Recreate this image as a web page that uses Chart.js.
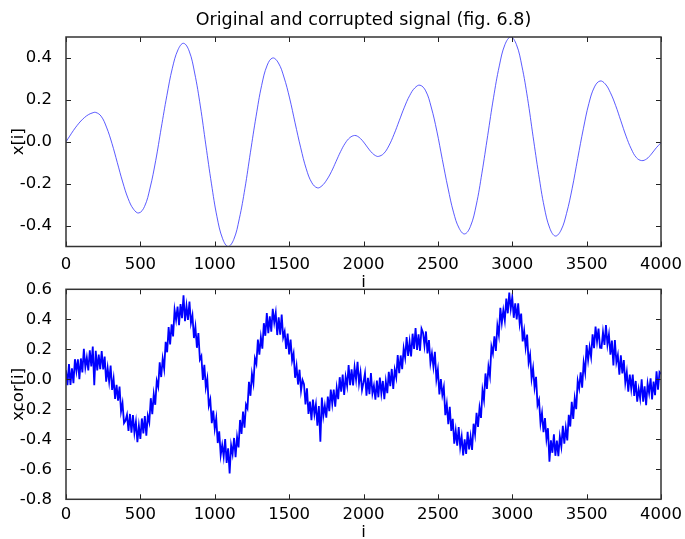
<!DOCTYPE html>
<html>
<head>
<meta charset="utf-8">
<script src="https://cdn.jsdelivr.net/npm/chart.js@4.4.1/dist/chart.umd.min.js"></script>
<style>
  html, body { margin: 0; padding: 0; background: #fff; }
  #wrap { position: relative; width: 685px; height: 539px; overflow: hidden; }
  canvas { position: absolute; left: 0; }
  #top { top: 0; }
  #bottom { top: 270px; }
</style>
</head>
<body>
<div id="wrap">
  <canvas id="top" width="685" height="300"></canvas>
  <canvas id="bottom" width="685" height="280"></canvas>
</div>
<script>
// original signal x[i], read at its turning points and along each swing
const topI = [0, 25, 50, 75, 100, 125, 150, 175, 200,
  236, 272, 309, 345, 381, 417, 454, 490,
  528, 565, 603, 640, 678, 715, 753, 790,
  828, 865, 903, 940, 978, 1015, 1053, 1090,
  1128, 1165, 1203, 1240, 1278, 1315, 1353, 1390,
  1428, 1465, 1503, 1540, 1578, 1615, 1653, 1690,
  1721, 1752, 1784, 1815, 1846, 1877, 1909, 1940,
  1960, 1980, 2000, 2020, 2040, 2060, 2080, 2100,
  2135, 2170, 2205, 2240, 2275, 2310, 2345, 2380,
  2418, 2455, 2493, 2530, 2568, 2605, 2643, 2680,
  2719, 2758, 2796, 2835, 2874, 2913, 2951, 2990,
  3028, 3065, 3103, 3140, 3178, 3215, 3253, 3290,
  3328, 3365, 3403, 3440, 3478, 3515, 3553, 3590,
  3625, 3660, 3695, 3730, 3765, 3800, 3835, 3870,
  3903, 3935, 3968, 4000];
const topV = [0, 0.027, 0.054, 0.078, 0.099, 0.116, 0.129, 0.137, 0.14,
  0.122, 0.07, -0.008, -0.10, -0.192, -0.27, -0.322, -0.34,
  -0.309, -0.221, -0.09, 0.065, 0.22, 0.351, 0.439, 0.47,
  0.433, 0.328, 0.171, -0.015, -0.201, -0.358, -0.463, -0.50,
  -0.466, -0.368, -0.222, -0.05, 0.122, 0.268, 0.366, 0.40,
  0.376, 0.309, 0.209, 0.09, -0.029, -0.129, -0.196, -0.22,
  -0.21, -0.183, -0.143, -0.095, -0.047, -0.007, 0.02, 0.03,
  0.026, 0.015, -0.001, -0.02, -0.039, -0.055, -0.066, -0.07,
  -0.057, -0.02, 0.035, 0.10, 0.165, 0.22, 0.257, 0.27,
  0.243, 0.166, 0.051, -0.085, -0.221, -0.336, -0.413, -0.44,
  -0.404, -0.302, -0.15, 0.03, 0.21, 0.362, 0.464, 0.50,
  0.464, 0.361, 0.207, 0.025, -0.157, -0.311, -0.414, -0.45,
  -0.422, -0.342, -0.222, -0.08, 0.062, 0.182, 0.262, 0.29,
  0.276, 0.234, 0.173, 0.10, 0.027, -0.034, -0.076, -0.09,
  -0.082, -0.059, -0.029, -0.005];

// corrupted signal xcor[i], one reading every 10 samples
const corrStep = 10;
const corrV = [
  0.06, -0.039, 0.102, -0.037, 0.073, -0.026, 0.134, 0.054, 0.133, 0.001,
  0.139, 0.046, 0.203, 0.079, 0.145, 0.059, 0.193, 0.086, 0.218, -0.04,
  0.19, 0.059, 0.164, 0.067, 0.188, 0.066, 0.151, -0.016, 0.075, -0.015,
  0.092, -0.071, 0.004, -0.131, -0.037, -0.143, -0.049, -0.214, -0.159, -0.292,
  -0.275, -0.236, -0.344, -0.231, -0.356, -0.238, -0.357, -0.284, -0.419, -0.31,
  -0.398, -0.261, -0.36, -0.245, -0.376, -0.243, -0.286, -0.126, -0.233, -0.098,
  -0.17, -0.01, -0.05, 0.113, 0.015, 0.137, 0.07, 0.25, 0.18, 0.348,
  0.233, 0.366, 0.286, 0.463, 0.396, 0.485, 0.36, 0.501, 0.408, 0.56,
  0.387, 0.489, 0.396, 0.518, 0.375, 0.427, 0.275, 0.35, 0.21, 0.308,
  0.132, 0.155, -0.004, 0.096, -0.055, 0.004, -0.176, -0.135, -0.292, -0.208,
  -0.33, -0.26, -0.425, -0.347, -0.505, -0.438, -0.516, -0.399, -0.557, -0.46,
  -0.628, -0.44, -0.498, -0.391, -0.52, -0.384, -0.454, -0.271, -0.364, -0.215,
  -0.323, -0.169, -0.194, -0.017, -0.11, 0.037, -0.026, 0.139, 0.103, 0.265,
  0.165, 0.281, 0.204, 0.374, 0.29, 0.441, 0.308, 0.42, 0.318, 0.47,
  0.378, 0.443, 0.295, 0.413, 0.298, 0.431, 0.28, 0.318, 0.202, 0.305,
  0.166, 0.265, 0.125, 0.172, 0.01, 0.088, -0.035, 0.064, -0.076, -0.005,
  -0.032, -0.168, -0.06, -0.231, -0.148, -0.273, -0.135, -0.233, -0.168, -0.31,
  -0.179, -0.416, -0.121, -0.245, -0.176, -0.256, -0.115, -0.212, -0.068, -0.164,
  -0.068, -0.183, -0.057, -0.132, 0.014, -0.082, 0.032, -0.105, 0.016, -0.044,
  0.095, -0.039, 0.066, -0.041, 0.08, -0.001, 0.116, -0.028, 0.045, -0.072,
  -0.021, 0.04, -0.11, 0.01, -0.099, 0.042, -0.095, -0.042, -0.136, -0.009,
  -0.12, 0.011, -0.096, -0.011, -0.133, -0.014, -0.093, 0.05, -0.046, 0.069,
  -0.064, 0.064, 0.012, 0.161, 0.04, 0.159, 0.068, 0.206, 0.144, 0.281,
  0.156, 0.25, 0.153, 0.304, 0.203, 0.341, 0.196, 0.299, 0.19, 0.338,
  0.312, 0.223, 0.319, 0.172, 0.262, 0.109, 0.173, 0.084, 0.183, -0.001,
  0.065, -0.101, 0.002, -0.105, -0.052, -0.239, -0.165, -0.299, -0.183, -0.344,
  -0.263, -0.429, -0.342, -0.442, -0.319, -0.453, -0.382, -0.508, -0.4, -0.498,
  -0.35, -0.468, -0.382, -0.471, -0.296, -0.367, -0.224, -0.318, -0.189, -0.257,
  -0.073, -0.138, 0.039, -0.064, 0.084, 0.021, 0.218, 0.173, 0.287, 0.189,
  0.358, 0.294, 0.477, 0.376, 0.461, 0.392, 0.538, 0.44, 0.578, 0.47,
  0.547, 0.41, 0.507, 0.399, 0.506, 0.369, 0.438, 0.253, 0.324, 0.213,
  0.298, 0.112, 0.164, 0.005, 0.075, -0.055, 0.016, -0.172, -0.138, -0.293,
  -0.224, -0.353, -0.258, -0.399, -0.326, -0.549, -0.407, -0.49, -0.367, -0.51,
  -0.408, -0.512, -0.382, -0.448, -0.31, -0.429, -0.325, -0.408, -0.237, -0.315,
  -0.15, -0.264, -0.127, -0.199, -0.01, -0.061, 0.047, -0.056, 0.111, 0.045,
  0.228, 0.128, 0.215, 0.149, 0.3, 0.208, 0.352, 0.252, 0.338, 0.21,
  0.209, 0.315, 0.229, 0.361, 0.231, 0.299, 0.164, 0.258, 0.092, 0.262,
  0.113, 0.162, 0.031, 0.16, 0.039, 0.128, -0.023, 0.048, -0.082, 0.032,
  -0.064, 0.031, -0.111, -0.011, -0.149, -0.065, -0.129, 0, -0.149, -0.047,
  -0.173, -0.028, -0.091, 0.007, -0.134, -0.015, -0.106, 0.053, -0.069, 0.048,
  0.035
];

const xTicks = [0, 500, 1000, 1500, 2000, 2500, 3000, 3500, 4000];
const topYTicks = [-0.4, -0.2, 0, 0.2, 0.4];
const bottomYTicks = [-0.8, -0.6, -0.4, -0.2, 0, 0.2, 0.4, 0.6];

const FONT = "'DejaVu Sans', sans-serif";
const INK = "#000";

// matplotlib-style box with inward ticks on all four sides
const frameTicks = {
  id: "frameTicks",
  afterDatasetsDraw(chart) {
    const { ctx, chartArea: a, scales } = chart;
    ctx.save();
    ctx.strokeStyle = "#222";
    ctx.lineWidth = 1;
    ctx.beginPath();
    for (const t of scales.x.ticks) {
      const px = Math.round(scales.x.getPixelForValue(t.value)) + 0.5;
      ctx.moveTo(px, a.bottom);
      ctx.lineTo(px, a.bottom - 5);
      ctx.moveTo(px, a.top);
      ctx.lineTo(px, a.top + 5);
    }
    for (const t of scales.y.ticks) {
      const py = Math.round(scales.y.getPixelForValue(t.value)) + 0.5;
      ctx.moveTo(a.left, py);
      ctx.lineTo(a.left + 5, py);
      ctx.moveTo(a.right, py);
      ctx.lineTo(a.right - 5, py);
    }
    ctx.stroke();
    ctx.strokeStyle = "#333";
    ctx.lineWidth = 1.5;
    ctx.strokeRect(a.left, a.top, a.right - a.left, a.bottom - a.top);
    ctx.restore();
  }
};

function fmt(v) {
  return Math.abs(v) < 1e-9 ? "0.0" : v.toFixed(1);
}

function makeOptions(cfg) {
  return {
    responsive: false,
    animation: false,
    events: [],
    layout: { padding: { top: cfg.padTop, right: 24, left: 0, bottom: 0 } },
    plugins: {
      legend: { display: false },
      tooltip: { enabled: false },
      title: cfg.title
        ? {
            display: true,
            fullSize: false,
            text: cfg.title,
            color: INK,
            font: { family: FONT, size: 17.5, weight: "normal" },
            padding: { top: 10, bottom: 6 }
          }
        : { display: false }
    },
    scales: {
      x: {
        type: "linear",
        min: 0,
        max: 4000,
        grid: { display: false },
        border: { display: false },
        afterBuildTicks: s => { s.ticks = xTicks.map(v => ({ value: v })); },
        afterFit: s => { s.height = cfg.xHeight; },
        ticks: {
          color: INK,
          padding: cfg.tickPad,
          maxRotation: 0,
          font: { family: FONT, size: 16.5 },
          callback: v => String(v)
        },
        title: {
          display: true,
          text: "i",
          color: INK,
          font: { family: FONT, size: 16.5 },
          padding: { top: 0, bottom: 7 }
        }
      },
      y: {
        type: "linear",
        min: cfg.yMin,
        max: cfg.yMax,
        grid: { display: false },
        border: { display: false },
        afterBuildTicks: s => { s.ticks = cfg.yTicks.map(v => ({ value: v })); },
        afterFit: s => { s.width = 66; },
        ticks: {
          color: INK,
          padding: 6,
          font: { family: FONT, size: 16.5 },
          callback: v => fmt(v)
        },
        title: {
          display: true,
          text: cfg.yLabel,
          color: INK,
          font: { family: FONT, size: 16.5 },
          padding: { top: 9, bottom: 0 }
        }
      }
    }
  };
}

new Chart(document.getElementById("top"), {
  type: "line",
  data: {
    datasets: [{
      data: topI.map((x, k) => ({ x, y: topV[k] })),
      borderColor: "rgba(50, 50, 255, 0.8)",
      borderWidth: 1,
      pointRadius: 0,
      tension: 0.4,
      fill: false
    }]
  },
  options: makeOptions({
    title: "Original and corrupted signal (fig. 6.8)",
    padTop: 0,
    xHeight: 53.5,
    tickPad: 0,
    yMin: -0.5,
    yMax: 0.5,
    yTicks: topYTicks,
    yLabel: "x[i]"
  }),
  plugins: [frameTicks]
});

new Chart(document.getElementById("bottom"), {
  type: "line",
  data: {
    datasets: [{
      data: corrV.map((y, k) => ({ x: k * corrStep, y })),
      borderColor: "#0000ff",
      borderWidth: 1.8,
      pointRadius: 0,
      tension: 0,
      fill: false
    }]
  },
  options: makeOptions({
    title: null,
    padTop: 19.3,
    xHeight: 50.7,
    tickPad: -2,
    yMin: -0.8,
    yMax: 0.6,
    yTicks: bottomYTicks,
    yLabel: "xcor[i]"
  }),
  plugins: [frameTicks]
});
</script>
</body>
</html>
